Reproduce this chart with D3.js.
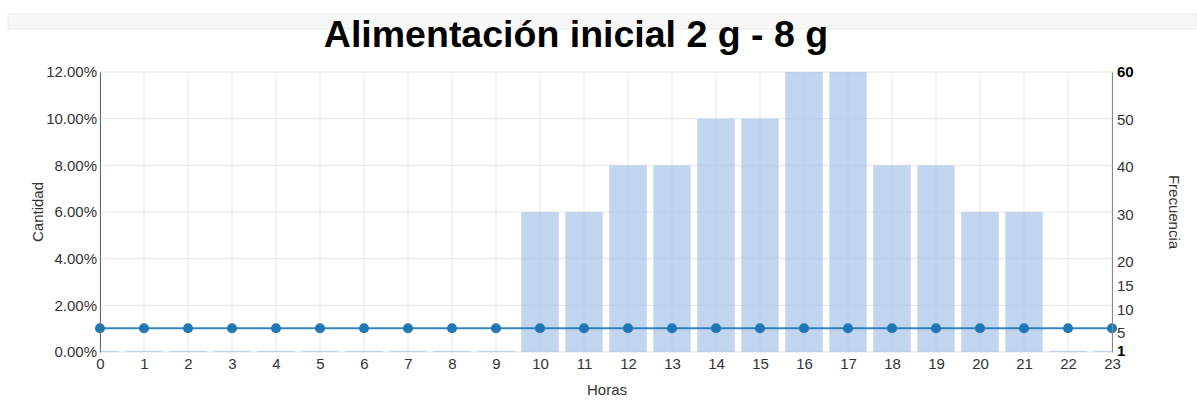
<!DOCTYPE html>
<html>
<head>
<meta charset="utf-8">
<script src="https://cdn.jsdelivr.net/npm/d3@7"></script>
<style>
  body { margin: 0; background: #fff; }
  svg { font-family: "Liberation Sans", Arial, sans-serif; }
</style>
</head>
<body>
<div id="wrapper"></div>
<script>
width = 1197
height = 415

marginTop = 72
marginLeft = 100
marginRight = 85
marginBottom = 63

// data
var hours = d3.range(0, 24)
var cantidad = [0.05, 0.05, 0.05, 0.05, 0.05, 0.05, 0.05, 0.05, 0.05, 0.05, 6, 6, 8, 8, 10, 10, 12, 12, 8, 8, 6, 6, 0.05, 0.05]
var frecuencia = [6, 6, 6, 6, 6, 6, 6, 6, 6, 6, 6, 6, 6, 6, 6, 6, 6, 6, 6, 6, 6, 6, 6, 6]
var leftTicks = [0, 2, 4, 6, 8, 10, 12]
var rightTicks = [1, 5, 10, 15, 20, 30, 40, 50, 60]

const svg = d3.select("#wrapper").append("svg")
    .attr("width", width)
    .attr("height", height)

var innerW = width - marginLeft - marginRight
var innerH = height - marginTop - marginBottom

// gray strip at the top
svg.append("rect")
    .attr("x", 8).attr("y", 14)
    .attr("width", width - 8).attr("height", 15)
    .attr("fill", "#f7f7f7")
    .attr("stroke", "#eeeeee")

svg.append("text")
    .attr("x", 576)
    .attr("y", 47)
    .attr("text-anchor", "middle")
    .style("font-size", "37.5px")
    .style("font-weight", "bold")
    .attr("fill", "#000")
    .text("Alimentación inicial 2 g - 8 g")

var x = d3.scalePoint()
    .domain(hours)
    .range([marginLeft, marginLeft + innerW])

var y = d3.scaleLinear()
    .domain([0, 12])
    .range([marginTop + innerH, marginTop])

var y2 = d3.scaleLinear()
    .domain([1, 60])
    .range([marginTop + innerH, marginTop])

// grid
svg.append("g")
    .selectAll("line")
    .data(leftTicks)
    .join("line")
    .attr("x1", marginLeft).attr("x2", marginLeft + innerW)
    .attr("y1", d => y(d)).attr("y2", d => y(d))
    .attr("stroke", "#e6e6e6")

svg.append("g")
    .selectAll("line")
    .data(hours)
    .join("line")
    .attr("x1", d => x(d)).attr("x2", d => x(d))
    .attr("y1", marginTop).attr("y2", marginTop + innerH)
    .attr("stroke", "#e6e6e6")

// clip for bars
svg.append("clipPath").attr("id", "clip")
    .append("rect")
    .attr("x", marginLeft).attr("y", marginTop)
    .attr("width", innerW).attr("height", innerH)

var barW = 37.5
svg.append("g")
    .attr("clip-path", "url(#clip)")
    .selectAll("rect")
    .data(cantidad)
    .join("rect")
    .attr("x", (d, i) => x(hours[i]) - barW / 2)
    .attr("width", barW)
    .attr("y", d => y(d))
    .attr("height", d => y(0) - y(d))
    .attr("fill", "#aec7e8")
    .attr("fill-opacity", 0.75)

// line
var line = d3.line()
    .x((d, i) => x(hours[i]))
    .y(d => y2(d))

svg.append("path")
    .datum(frecuencia)
    .attr("d", line)
    .attr("fill", "none")
    .attr("stroke", "#1f77b4")
    .attr("stroke-opacity", 0.9)
    .attr("stroke-width", 2)

svg.append("g")
    .selectAll("circle")
    .data(frecuencia)
    .join("circle")
    .attr("cx", (d, i) => x(hours[i]))
    .attr("cy", d => y2(d))
    .attr("r", 5)
    .attr("fill", "#1f77b4")

// axes
var yAxis = svg.append("g")
    .attr("transform", `translate(${marginLeft},0)`)
    .call(d3.axisLeft(y).tickValues(leftTicks).tickFormat(d => d3.format(".2f")(d) + "%").tickSize(0).tickPadding(3))
yAxis.select(".domain").attr("stroke", "#666")

var y2Axis = svg.append("g")
    .attr("transform", `translate(${marginLeft + innerW},0)`)
    .call(d3.axisRight(y2).tickValues(rightTicks).tickSize(0).tickPadding(5))
y2Axis.select(".domain").attr("stroke", "#888")

var xAxis = svg.append("g")
    .attr("transform", `translate(0,${marginTop + innerH})`)
    .call(d3.axisBottom(x).tickSize(0).tickPadding(6))
xAxis.select(".domain").remove()

svg.selectAll(".tick text")
    .style("font-size", "15px")
    .style("font-family", "Liberation Sans, Arial, sans-serif")
    .attr("fill", "#333")

y2Axis.selectAll(".tick text")
    .style("font-weight", d => (d == 60 || d == 1) ? "bold" : "normal")
    .attr("fill", d => (d == 60 || d == 1) ? "#000" : "#333")
    .attr("dy", d => d == 1 ? "0.2em" : "0.32em")

// axis titles
svg.append("text")
    .attr("transform", `translate(43,${marginTop + innerH / 2}) rotate(-90)`)
    .attr("text-anchor", "middle")
    .style("font-size", "15px")
    .attr("fill", "#333")
    .text("Cantidad")

svg.append("text")
    .attr("transform", `translate(1169,${marginTop + innerH / 2}) rotate(90)`)
    .attr("text-anchor", "middle")
    .style("font-size", "15px")
    .attr("fill", "#333")
    .text("Frecuencia")

svg.append("text")
    .attr("x", 607)
    .attr("y", 395)
    .attr("text-anchor", "middle")
    .style("font-size", "15px")
    .attr("fill", "#333")
    .text("Horas")
</script>
</body>
</html>
